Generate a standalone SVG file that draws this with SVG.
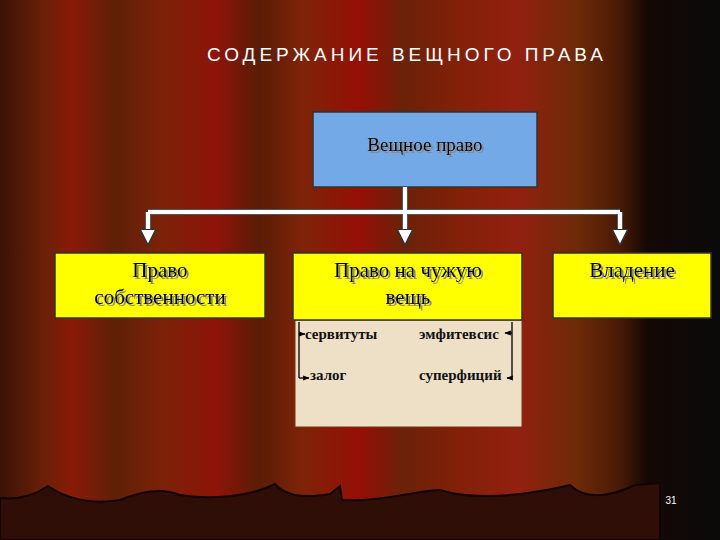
<svg xmlns="http://www.w3.org/2000/svg" width="720" height="540" viewBox="0 0 720 540">
<defs>
<linearGradient id="cur" x1="0" y1="0" x2="1" y2="0">
<stop offset="0" stop-color="#3a1206"/><stop offset="0.06" stop-color="#6a2008"/><stop offset="0.1" stop-color="#8a1a08"/><stop offset="0.16" stop-color="#5e2006"/><stop offset="0.22" stop-color="#7a2208"/><stop offset="0.3" stop-color="#8e1408"/><stop offset="0.36" stop-color="#5a1c06"/><stop offset="0.42" stop-color="#7e2408"/><stop offset="0.5" stop-color="#950f06"/><stop offset="0.56" stop-color="#6a2208"/><stop offset="0.64" stop-color="#842008"/><stop offset="0.72" stop-color="#922010"/><stop offset="0.8" stop-color="#6e2a08"/><stop offset="0.86" stop-color="#4a1a06"/><stop offset="0.9" stop-color="#140804"/><stop offset="1" stop-color="#0a0a0a"/>
</linearGradient>
<filter id="ds" x="-10%" y="-20%" width="130%" height="150%"><feDropShadow dx="2" dy="2" stdDeviation="0.3" flood-color="#888"/></filter>
<marker id="ah" viewBox="0 0 10 10" refX="8" refY="5" markerWidth="4" markerHeight="4" orient="auto"><path d="M0,0L10,5L0,10z" fill="#fff" stroke="#333" stroke-width="1"/></marker>
<marker id="sa" viewBox="0 0 10 10" refX="9" refY="5" markerWidth="5" markerHeight="5" orient="auto"><path d="M0,1L10,5L0,9z" fill="#000"/></marker>
</defs>
<style>
.t{font-family:"Liberation Serif",serif;fill:#000;filter:url(#ds)}
.c{stroke:#fff;stroke-width:4;fill:none}
.co{stroke:#555;stroke-width:6;fill:none}
.s{font-family:"Liberation Serif",serif;font-weight:bold;font-size:15px;fill:#111}
.k{stroke:#000;stroke-width:1.3;fill:none}
</style>
<rect width="720" height="540" fill="url(#cur)"/>
<path d="M0,498 C20,500 35,495 48,486 C65,498 90,505 120,500 C140,492 160,487 180,495 C210,500 250,497 275,484 C285,495 300,499 330,494 L340,486 L342,500 C380,502 420,490 440,490 C470,500 520,497 570,485 C585,500 610,497 635,485 L660,483 L660,540 L0,540 Z" fill="#2e0e06" stroke="#120402" stroke-width="2"/>
<text x="405" y="61" text-anchor="middle" font-family="Liberation Sans,sans-serif" font-size="19" textLength="396" fill="#fff">СОДЕРЖАНИЕ ВЕЩНОГО ПРАВА</text>
<g id="n-veshnoe">
<rect x="313" y="112" width="224" height="75" fill="#74a9e8" stroke="#333" stroke-width="1.5"/>
<text class="t" x="425" y="151" text-anchor="middle" font-size="19">Вещное право</text>
</g>
<g id="n-sobstv">
<rect x="55" y="253" width="210" height="65" fill="#ffff00" stroke="#333" stroke-width="1.5"/>
<text class="t" x="160" y="277" text-anchor="middle" font-size="21">Право</text>
<text class="t" x="160" y="304" text-anchor="middle" font-size="21">собственности</text>
</g>
<g id="n-chuzhaya">
<rect x="295" y="320" width="227" height="107" fill="#eee0c6" stroke="#7a3010" stroke-width="1"/>
<rect x="293" y="253" width="229" height="67" fill="#ffff00" stroke="#333" stroke-width="1.5"/>
<text class="t" x="408" y="277" text-anchor="middle" font-size="21">Право на чужую</text>
<text class="t" x="408" y="304" text-anchor="middle" font-size="21">вещь</text>
<text class="s" x="305" y="339">сервитуты</text>
<text class="s" x="419" y="339">эмфитевсис</text>
<text class="s" x="310" y="380">залог</text>
<text class="s" x="419" y="380">суперфиций</text>
</g>
<g id="n-vladenie">
<rect x="553" y="253" width="158" height="65" fill="#ffff00" stroke="#333" stroke-width="1.5"/>
<text class="t" x="632" y="277" text-anchor="middle" font-size="21">Владение</text>
</g>
<g id="connectors">
<path class="co" d="M405,187V212M148,212H620M148,212V240M405,212V240M620,212V240"/>
<path class="c" d="M405,187V212M148,212H620"/>
<path class="c" d="M148,212V242" marker-end="url(#ah)"/>
<path class="c" d="M405,212V242" marker-end="url(#ah)"/>
<path class="c" d="M620,212V242" marker-end="url(#ah)"/>
<path class="k" d="M299,322V378M512,322V378"/>
<path class="k" d="M299,334H305" marker-end="url(#sa)"/>
<path class="k" d="M299,378H309" marker-end="url(#sa)"/>
<path class="k" d="M512,333H505" marker-end="url(#sa)"/>
<path class="k" d="M512,378H507" marker-end="url(#sa)"/>
</g>
<text x="671" y="504" text-anchor="middle" font-family="Liberation Sans,sans-serif" font-size="10" fill="#fff">31</text>
</svg>
